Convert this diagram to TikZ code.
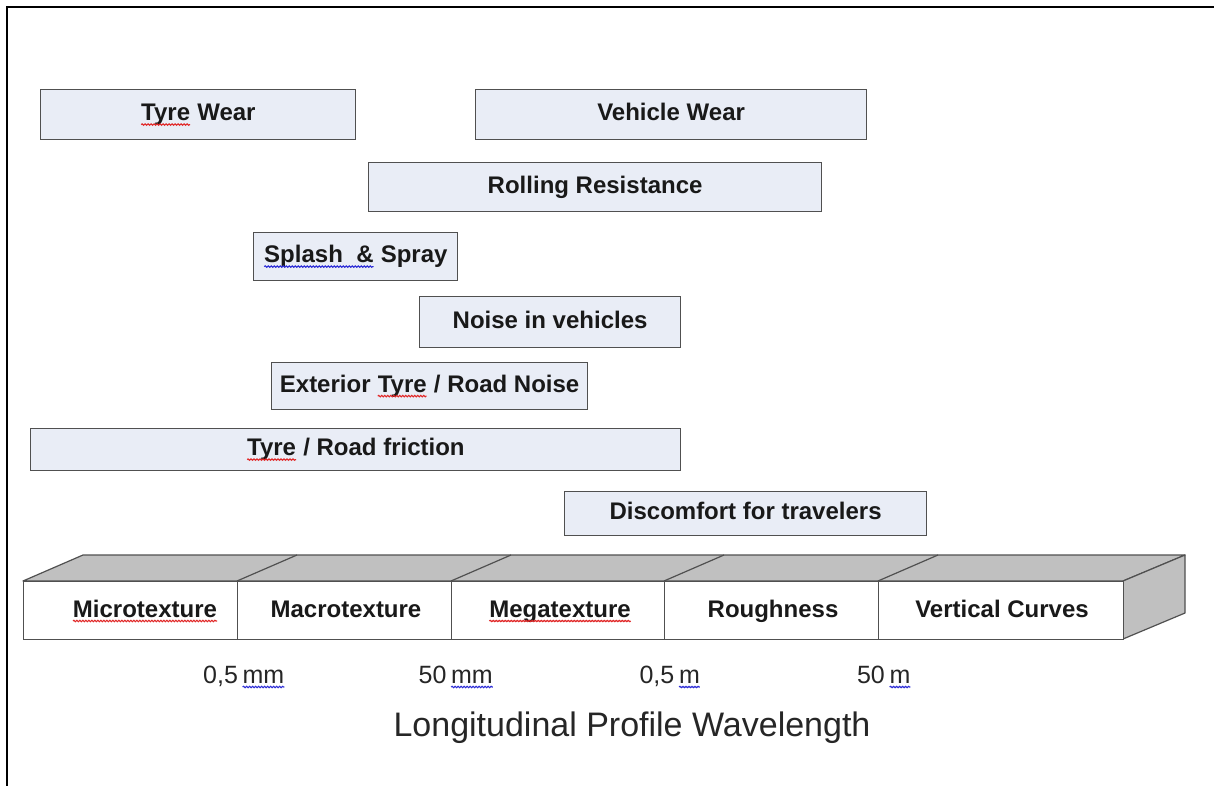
\documentclass[tikz,border=0pt]{standalone}
\usepackage{fontspec}
\setmainfont{Liberation Sans}
\usetikzlibrary{decorations.pathmorphing}
\definecolor{boxfill}{RGB}{233,237,246}
\definecolor{boxline}{RGB}{80,80,80}
\definecolor{topgray}{RGB}{192,192,192}
\definecolor{sqred}{RGB}{225,40,40}
\definecolor{sqblue}{RGB}{45,45,215}
\newcommand\squig[2]{\tikz[baseline=(sqw.base)]{\node[inner sep=0pt,outer sep=0pt,minimum size=0pt,text height=,text depth=](sqw){#2};\draw[#1,line width=1.1pt,decorate,decoration={snake,amplitude=0.7pt,segment length=3pt}]([yshift=-4pt]sqw.base west)--([yshift=-4pt]sqw.base east);}}
\tikzset{
  effbox/.style={draw=boxline, line width=1.2pt, fill=boxfill, inner sep=0pt, anchor=north west,
    text height=17pt, text depth=5pt,
    font=\fontsize{24}{28}\selectfont\bfseries, text=black!90},
  segbox/.style={draw=boxline, line width=1.2pt, fill=white, inner sep=0pt, anchor=north west},
  seglabel/.style={font=\fontsize{24}{28}\selectfont\bfseries, text=black!90, inner sep=0pt, anchor=base},
  scalelabel/.style={font=\fontsize{25}{29}\selectfont, text=black!85, inner sep=0pt, anchor=base},
  facefill/.style={draw=boxline, line width=1.2pt, fill=topgray, line join=round},
}
\begin{document}
\begin{tikzpicture}[x=1pt,y=-1pt]
\useasboundingbox (0,0) rectangle (1214,786);
\fill[white] (0,0) rectangle (1214,786);
% frame
\draw[line width=2pt] (7,786) -- (7,7) -- (1214,7);
% effect boxes
\node[effbox, minimum width=315, minimum height=50] (tw) at (40,89) {\squig{sqred}{Tyre} Wear};
\node[effbox, minimum width=391, minimum height=50] (vw) at (475,89) {Vehicle Wear};
\node[effbox, minimum width=453, minimum height=49] (rr) at (368,162) {Rolling Resistance};
\node[effbox, minimum width=204, minimum height=48] (ss) at (253,232) {\squig{sqblue}{Splash\ \ \&} Spray};
\node[effbox, minimum width=261, minimum height=51] (nv) at (419,296) {Noise in vehicles};
\node[effbox, minimum width=316, minimum height=47] (ex) at (271,362) {Exterior \squig{sqred}{Tyre} / Road Noise};
\node[effbox, minimum width=650, minimum height=42] (fr) at (30,428) {\squig{sqred}{Tyre} / Road friction};
\node[effbox, minimum width=362, minimum height=44] (dc) at (564,491) {Discomfort for travelers};
% bar: top and side faces
\draw[facefill] (23,581) -- (83,555) -- (1185,555) -- (1123,581) -- cycle;
\draw[facefill] (1123,581) -- (1185,555) -- (1185,613) -- (1123,639) -- cycle;
\foreach \xx in {237,451,664,878} { \draw[boxline, line width=1.2pt] (\xx,581) -- (\xx+60,555); }
% bar: front segments
\node[segbox, minimum width=214, minimum height=58] (s1) at (23,581) {};
\node[segbox, minimum width=214, minimum height=58] (s2) at (237,581) {};
\node[segbox, minimum width=213, minimum height=58] (s3) at (451,581) {};
\node[segbox, minimum width=214, minimum height=58] (s4) at (664,581) {};
\node[segbox, minimum width=245, minimum height=58] (s5) at (878,581) {};
\node[seglabel] (l1) at (145,617) {\squig{sqred}{Microtexture}};
\node[seglabel] (l2) at (346,617) {Macrotexture};
\node[seglabel] (l3) at (560,617) {\squig{sqred}{Megatexture}};
\node[seglabel] (l4) at (773,617) {Roughness};
\node[seglabel] (l5) at (1002,617) {Vertical Curves};
% scale labels
\node[scalelabel] (m1) at (244,683) {0,5\,\squig{sqblue}{mm}};
\node[scalelabel] (m2) at (456,683) {50\,\squig{sqblue}{mm}};
\node[scalelabel] (m3) at (670,683) {0,5\,\squig{sqblue}{m}};
\node[scalelabel] (m4) at (884,683) {50\,\squig{sqblue}{m}};
\node[scalelabel, font=\fontsize{34}{40}\selectfont] (title) at (632,736) {Longitudinal Profile Wavelength};
\end{tikzpicture}
\end{document}
